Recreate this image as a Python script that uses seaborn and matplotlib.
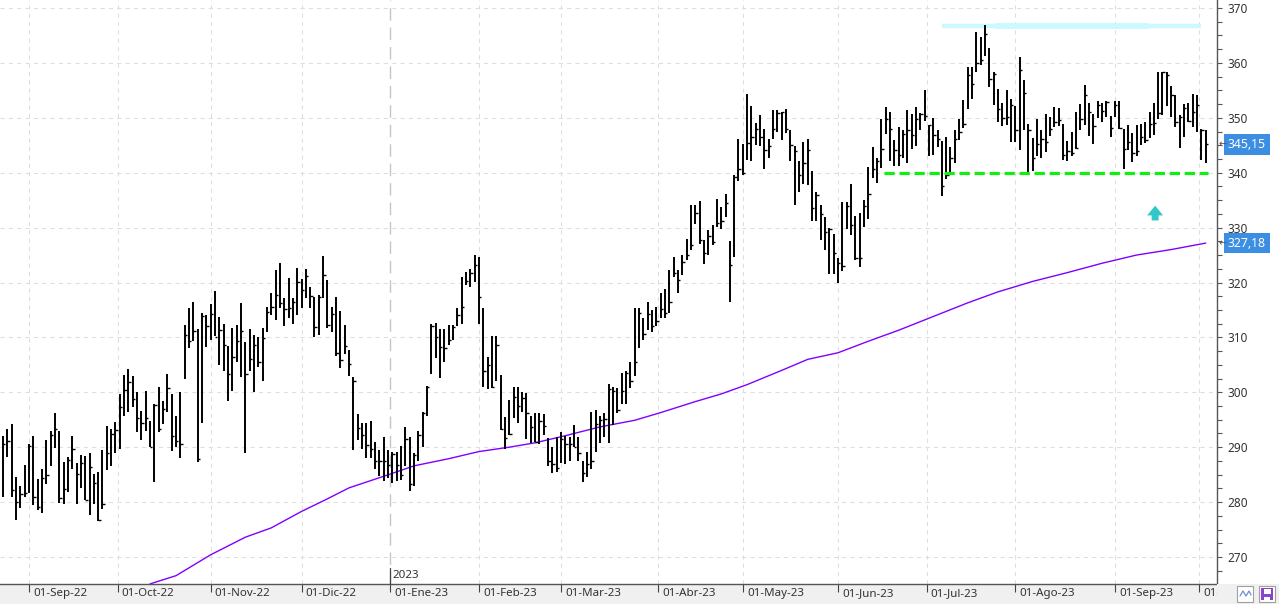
import numpy as np
import pandas as pd
import matplotlib
matplotlib.use("Agg")
import matplotlib.pyplot as plt
import seaborn as sns
from matplotlib import transforms
from matplotlib.patches import Rectangle

# ---------------- data ----------------
high = [292.05, 293.3, 294.2, 284.5, 283.0, 286.8, 290.5, 292.05, 284.2, 286.0, 291.3, 293.0, 296.2, 293.0,
        287.3, 288.2, 292.05, 287.1, 288.6, 288.4, 288.9, 285.1, 285.4, 289.5, 293.9, 293.3, 294.5, 299.7,
        303.1, 304.2, 303.0, 300.0, 296.6, 300.2, 294.8, 297.9, 300.9, 298.4, 303.3, 299.6, 295.7, 300.1,
        312.2, 315.3, 316.4, 311.5, 314.4, 314.0, 316.1, 318.4, 313.8, 312.5, 308.4, 311.8, 312.2, 316.2,
        309.2, 311.6, 310.4, 310.0, 311.8, 315.6, 318.0, 322.3, 323.6, 317.1, 320.9, 317.1, 322.7, 320.6,
        322.4, 319.2, 317.4, 317.7, 324.8, 320.5, 315.6, 317.3, 314.9, 312.3, 307.7, 302.7, 296.1, 294.4,
        294.4, 294.8, 290.9, 289.5, 291.8, 289.4, 289.2, 289.2, 290.3, 293.6, 291.8, 288.9, 293.0, 296.4,
        301.2, 312.4, 312.6, 311.5, 311.6, 312.3, 312.3, 315.4, 321.0, 322.0, 322.5, 325.1, 324.7,
        315.4, 306.4, 310.3, 310.3, 303.2, 295.5, 298.6, 301.0, 301.0, 300.1, 299.8, 295.6, 296.3, 296.3,
        296.1, 291.6, 290.1, 291.8, 292.7, 292.0, 291.9, 294.1, 291.8, 287.4, 289.2, 296.5, 296.8, 295.6,
        296.2, 301.5, 301.0, 300.7, 303.5, 303.8, 305.5, 315.3, 315.3, 313.5, 316.4, 315.0, 315.5, 318.0,
        318.9, 322.2, 324.7, 322.2, 325.0, 328.0, 334.1, 334.1, 334.8, 327.7, 329.5, 330.4, 335.3,
        333.8, 336.2, 327.5, 339.5, 346.2, 345.3, 354.4, 352.1, 349.1, 350.5, 347.9, 346.2, 351.5, 351.5,
        351.0, 351.6, 347.7, 344.8, 342.2, 345.6, 346.1, 340.4, 336.5, 334.1, 331.9, 329.9, 328.9, 324.5,
        334.7, 334.6, 338.0, 332.1, 332.7, 335.0, 341.0, 344.7, 342.6, 349.8, 351.9, 351.0, 345.9, 348.3,
        347.7, 351.5, 350.7, 351.9, 350.9, 355.0, 348.7, 350.0, 347.7, 345.7, 346.5, 344.7, 347.7,
        349.8, 353.3, 359.3, 359.3, 365.6, 364.7, 366.9, 362.8, 358.3, 355.3, 352.7, 355.1, 353.4, 352.1,
        361.0, 356.8, 348.9, 346.3, 349.8, 347.7, 350.7, 350.1, 351.9, 351.7, 348.9, 345.7, 347.4, 351.1,
        352.5, 355.9, 352.7, 350.7, 353.0, 352.7, 353.0, 350.4, 353.0, 353.1, 348.0, 348.6, 347.3, 348.6,
        348.9, 349.3, 351.1, 352.7, 358.3, 358.4, 358.3, 355.8, 354.2, 350.5, 352.5, 352.7, 354.4, 354.1,
        347.9, 347.7]
low = [281.0, 288.2, 281.0, 276.7, 278.9, 281.0, 281.6, 279.4, 278.5, 278.0, 283.3, 286.5, 289.9, 279.9,
       279.6, 281.9, 286.0, 279.6, 282.5, 280.3, 277.7, 279.6, 276.5, 278.7, 285.9, 286.5, 289.0, 289.6,
       295.75, 296.5, 297.4, 292.7, 291.4, 292.9, 290.0, 283.6, 292.7, 294.2, 296.5, 289.3, 290.1, 288.0,
       302.5, 308.1, 309.4, 287.3, 294.4, 308.3, 309.6, 310.2, 305.0, 303.9, 298.5, 300.3, 305.6, 302.7,
       288.9, 303.8, 300.0, 304.6, 302.0, 311.0, 314.0, 313.2, 315.3, 312.0, 313.5, 312.5, 314.0, 315.4,
       317.1, 315.4, 310.0, 310.4, 317.1, 311.8, 311.0, 306.7, 304.5, 307.0, 302.9, 289.4, 291.3, 289.7,
       288.1, 288.0, 286.1, 284.7, 283.9, 284.4, 283.5, 283.8, 284.1, 286.5, 282.1, 283.0, 287.4, 290.1,
       295.6, 303.3, 306.2, 302.6, 305.6, 308.6, 309.5, 312.0, 312.5, 319.5, 319.2, 320.1, 312.4,
       301.0, 300.6, 300.7, 302.1, 293.1, 289.7, 292.2, 295.3, 294.4, 296.5, 291.5, 290.7, 290.9, 290.6,
       292.3, 286.5, 285.3, 285.5, 287.2, 287.0, 287.4, 290.0, 287.5, 283.6, 284.5, 286.0, 289.1, 290.7,
       291.8, 290.7, 294.1, 296.2, 297.9, 297.9, 300.7, 302.9, 308.0, 309.6, 311.3, 310.9, 312.0, 313.5,
       313.5, 314.4, 321.0, 318.0, 321.3, 324.1, 326.0, 330.7, 327.1, 323.3, 325.0, 326.8, 330.1,
       329.7, 332.0, 316.4, 324.6, 338.5, 339.6, 342.4, 342.2, 345.0, 344.9, 340.7, 342.6, 346.2, 347.4,
       345.9, 347.3, 342.1, 334.2, 336.4, 337.9, 337.8, 331.2, 331.2, 327.7, 325.9, 321.6, 321.6, 320.0,
       322.1, 329.7, 328.7, 324.1, 322.9, 330.1, 331.6, 339.0, 338.1, 340.8, 347.0, 342.1, 341.3, 341.2,
       342.6, 341.8, 344.4, 344.9, 347.7, 349.5, 343.0, 343.2, 344.7, 335.8, 338.9, 340.0, 341.8,
       345.9, 348.1, 351.6, 353.4, 358.3, 359.6, 361.2, 355.6, 352.4, 349.3, 348.5, 348.7, 345.6, 345.6,
       344.1, 347.7, 340.1, 340.4, 343.1, 342.7, 343.8, 346.7, 348.3, 348.5, 342.4, 342.2, 343.0, 344.4,
       347.7, 348.7, 346.7, 345.3, 349.9, 349.2, 350.1, 346.5, 350.1, 348.0, 340.7, 344.1, 341.9, 343.1,
       345.0, 345.4, 346.3, 346.8, 349.7, 350.5, 352.1, 350.1, 348.3, 344.5, 346.5, 349.3, 348.3, 347.4,
       342.4, 341.8]
close = [290.5, 291.2, 282.2, 280.1, 281.4, 281.7, 290.2, 281.0, 279.1, 284.4, 284.9, 292.2, 293.4, 280.7,
         282.4, 287.6, 289.6, 285.1, 287.1, 280.4, 286.4, 283.4, 276.7, 279.7, 288.9, 292.4, 293.2, 297.3,
         300.5, 301.9, 298.7, 295.3, 294.4, 295.4, 290.0, 297.7, 293.4, 297.0, 300.7, 292.1, 291.2, 290.5,
         310.5, 309.4, 311.1, 287.8, 313.9, 312.1, 314.2, 310.0, 311.3, 308.7, 303.3, 306.5, 309.3, 311.1,
         303.3, 306.0, 308.6, 305.5, 309.8, 314.7, 315.5, 317.8, 316.2, 315.2, 315.4, 316.4, 320.1, 318.6,
         321.2, 317.6, 311.9, 317.4, 321.3, 312.2, 314.2, 307.1, 305.9, 308.4, 305.2, 302.0, 293.5, 292.3,
         290.4, 289.7, 287.4, 287.5, 287.4, 286.7, 288.7, 286.8, 285.0, 291.5, 283.3, 288.5, 292.2, 296.3,
         300.9, 312.1, 310.1, 308.2, 308.1, 309.6, 311.9, 314.1, 315.6, 320.2, 321.8, 323.2, 317.3,
         303.8, 304.9, 300.9, 308.6, 293.3, 291.6, 292.4, 299.1, 297.5, 298.9, 296.3, 293.6, 291.0, 294.8,
         293.9, 287.4, 287.0, 286.2, 291.5, 290.6, 290.6, 290.1, 289.0, 285.3, 286.9, 287.4, 294.2, 294.9,
         295.2, 300.6, 300.2, 296.8, 300.3, 303.5, 302.1, 305.5, 314.4, 310.7, 314.2, 312.0, 313.0, 315.1,
         314.4, 316.5, 321.8, 320.4, 323.8, 325.0, 326.8, 332.7, 327.8, 325.3, 328.4, 327.4, 330.9,
         331.2, 334.5, 323.2, 339.3, 340.7, 340.0, 345.5, 346.5, 347.9, 346.5, 344.1, 344.8, 348.0, 350.8,
         351.0, 348.0, 345.1, 343.9, 339.5, 341.8, 344.1, 333.6, 336.0, 332.4, 329.2, 329.7, 325.3, 323.5,
         323.0, 334.0, 330.4, 324.5, 324.4, 334.0, 336.2, 340.7, 342.1, 344.4, 349.8, 348.0, 344.1, 343.3,
         347.1, 347.7, 346.9, 349.8, 350.7, 350.3, 348.6, 346.9, 346.1, 337.5, 339.6, 342.6, 346.1,
         347.5, 348.9, 357.8, 356.2, 360.0, 360.6, 365.3, 357.0, 358.0, 351.6, 349.9, 350.2, 352.4, 347.7,
         358.8, 354.5, 347.7, 342.7, 345.3, 346.1, 345.6, 347.9, 349.3, 349.6, 343.3, 343.9, 343.5, 344.5,
         349.8, 354.2, 351.1, 348.5, 352.4, 351.3, 352.8, 348.1, 352.4, 348.1, 344.4, 345.6, 343.6, 343.9,
         346.5, 345.9, 348.9, 349.1, 350.9, 358.3, 357.8, 354.2, 349.3, 350.1, 351.8, 349.5, 351.0, 352.4,
         347.7, 345.15]

# NYSE trading calendar (exchange holidays in the period)
holidays = ["2022-09-05", "2022-11-24", "2022-12-26", "2023-01-02", "2023-01-16", "2023-02-20",
            "2023-04-07", "2023-05-29", "2023-06-19", "2023-07-04", "2023-09-04"]
dates = pd.bdate_range("2022-08-24", "2023-10-03", freq="C", holidays=holidays)

month_abbr = ["Ene", "Feb", "Mar", "Abr", "May", "Jun", "Jul", "Ago", "Sep", "Oct", "Nov", "Dic"]

# 200-session moving average, sampled along the drawn curve (bar number, value)
ma_bar = [34, 40, 48, 56, 62, 69, 75, 80, 88, 95, 103, 110, 117, 123, 130, 138, 146, 152, 160,
          166, 172, 180, 186, 193, 200, 207, 215, 223, 230, 238, 246, 254, 262, 270, 278]
ma_val = [265.1, 266.6, 270.4, 273.6, 275.3, 278.3, 280.6, 282.6, 284.7, 286.6, 287.9, 289.2, 290.0,
          290.8, 292.1, 293.7, 294.9, 296.3, 298.3, 299.7, 301.4, 304.0, 306.0, 307.2, 309.3, 311.3,
          313.8, 316.3, 318.3, 320.2, 321.8, 323.5, 325.0, 326.0, 327.18]

resistance_level = 366.8
resistance_span = (217, 277)
resistance_core = (229.5, 264.7)
support_level = 339.9
support_span = (203.7, 278.5)
arrow_bar, arrow_from, arrow_to = 266.3, 330.8, 334.5
last_price_label = "345,15"
ma_label = "327,18"

# ---------------- figure ----------------
W, H = 1279, 604
sns.set_style("white")
plt.rcParams["font.family"] = ["Noto Sans", "DejaVu Sans"]
fig = plt.figure(figsize=(W / 100, H / 100), dpi=100)
fig.patch.set_facecolor("white")
fig.patches.append(Rectangle((0, 0), 1, 20 / H, transform=fig.transFigure,
                             facecolor="#f0f0f0", edgecolor="none", zorder=-5))
ax = fig.add_axes([0, 20 / H, 1217 / W, 584 / H])
ax.set_facecolor("white")

n = len(high)
xs = np.arange(n)
ax.set_xlim(-0.69, 280.6)
ax.set_ylim(265.08, 371.46)

# month ticks
pos, labs = [], []
for i in range(1, n):
    if dates[i].month != dates[i - 1].month:
        d = dates[i]
        p = i if d.day == 1 else i - 0.5
        pos.append(p)
        labs.append(f"01-{month_abbr[d.month - 1]}-{str(d.year)[2:]}")
jan_pos = [p for p, l in zip(pos, labs) if "Ene" in l][0]

grid_kw = dict(color="#dedede", lw=0.75, ls=(0, (4, 4)), zorder=0)
for yv in range(270, 371, 10):
    ax.axhline(yv, **grid_kw)
for p in pos:
    if p != jan_pos:
        ax.axvline(p, **grid_kw)
ax.axvline(jan_pos, color="#c6c6c6", lw=1.0, ls=(0, (9, 5)), zorder=0)

# annotations behind bars
ax.plot(resistance_span, [resistance_level] * 2, color="#ccf9fd", lw=3.2, solid_capstyle="butt", zorder=1)
ax.plot(resistance_core, [resistance_level] * 2, color="#ccf9fd", lw=4.3, solid_capstyle="butt", zorder=1)

# HLC bars
ax.vlines(xs, low, high, color="black", lw=1.4, zorder=3)
ax.hlines(close, xs, xs + 0.55, color="black", lw=1.0, zorder=3)

# moving average
sns.lineplot(x=ma_bar, y=ma_val, ax=ax, color="#8000ff", lw=1.0, zorder=2)

ax.plot(support_span, [support_level] * 2, color="#11ee11", lw=2.3, ls=(0, (3.2, 1.5)), zorder=4)
ax.annotate("", xy=(arrow_bar, arrow_to), xytext=(arrow_bar, arrow_from),
            arrowprops=dict(arrowstyle="simple,head_length=0.7,head_width=1.15,tail_width=0.5",
                            color="#32c7c9", lw=0), zorder=4)

# axes styling
for s in ["top", "left"]:
    ax.spines[s].set_visible(False)
for s in ["right", "bottom"]:
    ax.spines[s].set_visible(True)
    ax.spines[s].set_color("#555555")
    ax.spines[s].set_linewidth(1.0)

ax.yaxis.tick_right()
ax.set_yticks(range(270, 371, 10))
ax.set_yticks(np.arange(267.5, 371.5, 2.5), minor=True)
ax.tick_params(axis="y", which="both", direction="out", length=3.8, width=0.8, color="#555555",
               labelsize=8.5, labelcolor="#333333", pad=3.5, right=True, left=False)
ax.set_xticks(pos)
ax.set_xticklabels(labs)
ax.tick_params(axis="x", direction="out", length=6, width=0.8, color="#444444",
               labelsize=8.3, labelcolor="#333333", pad=-3.0, bottom=True)
off = transforms.ScaledTranslation(3 / 72, 0, fig.dpi_scale_trans)
for lbl in ax.get_xticklabels():
    lbl.set_ha("left")
    lbl.set_transform(lbl.get_transform() + off)
ax.set_xlabel("")
ax.set_ylabel("")
if ax.get_legend():
    ax.get_legend().remove()

# 2023 year marker
bt = transforms.blended_transform_factory(ax.transData, ax.transAxes)
ax.plot([jan_pos, jan_pos], [0, 16 / 584], color="#444444", lw=0.9, transform=bt, clip_on=False, zorder=5)
ax.text(jan_pos + 0.5, 9 / 584, "2023", transform=bt, fontsize=8.3, color="#333333",
        ha="left", va="center", zorder=5)

# price labels on the right axis
rt = transforms.blended_transform_factory(ax.transAxes, ax.transData)
for val, txt in [(close[-1], last_price_label), (ma_val[-1], ma_label)]:
    ax.annotate(txt, xy=(1, val), xycoords=rt, xytext=(11, 0), textcoords="offset pixels",
                ha="left", va="center", fontsize=8.8, color="white", annotation_clip=False,
                bbox=dict(boxstyle="square,pad=0.3", fc="#3b8ee2", ec="none"))
    ax.annotate("←", xy=(1, val), xycoords=rt, xytext=(2, 0), textcoords="offset pixels",
                ha="left", va="center", fontsize=7, color="#555555", annotation_clip=False,
                family="DejaVu Sans")

# strip cover right of the plot and small toolbar icons
fig.patches.append(Rectangle((1217 / W, 0), 62 / W, 20 / H, transform=fig.transFigure,
                             facecolor="#f0f0f0", edgecolor="none", zorder=3))
fig.patches.append(Rectangle((1237 / W, 2 / H), 16 / W, 16 / H, transform=fig.transFigure,
                             facecolor="white", edgecolor="#a0a0a0", lw=0.8, zorder=4))
fig.lines.append(plt.Line2D([1240 / W, 1243 / W, 1246 / W, 1249 / W, 1251 / W],
                            [8 / H, 13 / H, 8 / H, 13 / H, 9 / H], transform=fig.transFigure,
                            color="#6a8fd0", lw=0.9, zorder=5))
fig.patches.append(Rectangle((1259 / W, 2 / H), 16 / W, 16 / H, transform=fig.transFigure,
                             facecolor="white", edgecolor="#a0a0a0", lw=0.8, zorder=4))
fig.patches.append(Rectangle((1261 / W, 4 / H), 12 / W, 12 / H, transform=fig.transFigure,
                             facecolor="#8a44c8", edgecolor="none", zorder=5))
fig.patches.append(Rectangle((1263.5 / W, 10.5 / H), 7 / W, 4.5 / H, transform=fig.transFigure,
                             facecolor="white", edgecolor="none", zorder=6))
fig.patches.append(Rectangle((1264 / W, 4 / H), 6 / W, 3.5 / H, transform=fig.transFigure,
                             facecolor="white", edgecolor="none", zorder=6))

fig.savefig("out.png", dpi=100)
